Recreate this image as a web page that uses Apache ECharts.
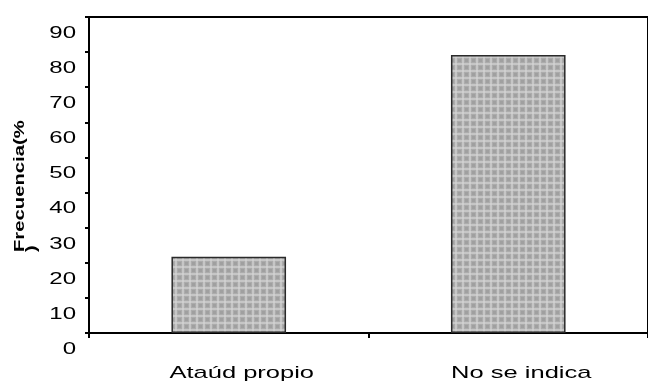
<!DOCTYPE html>
<html><head><meta charset="utf-8">
<script src="https://cdn.jsdelivr.net/npm/echarts@6/dist/echarts.min.js"></script>
<style>html,body{margin:0;padding:0;background:#fff}#c{width:648px;height:383px}</style>
</head><body><div id="c"></div>
<script>
var categories = ['Ataúd propio', 'No se indica'];
var values = [21.7, 79.2];
var yTicks = ['0','10','20','30','40','50','60','70','80','90'];

// The reference text is drawn horizontally stretched; stretch glyphs around their anchor point.
(function(){
  var proto = CanvasRenderingContext2D.prototype;
  var orig = proto.fillText;
  proto.fillText = function(text, x, y, maxWidth){
    var sx = /bold/.test(this.font) ? 1.35 : 1.5;
    this.save();
    this.translate(x, y);
    this.scale(sx, 1);
    if (maxWidth !== undefined) orig.call(this, text, 0, 0, maxWidth / sx);
    else orig.call(this, text, 0, 0);
    this.restore();
  };
})();

function makePattern(){
  var c = document.createElement('canvas');
  c.width = 7; c.height = 7;
  var g = c.getContext('2d');
  g.fillStyle = '#acacac'; g.fillRect(0,0,7,7);
  g.fillStyle = '#c6c6c6'; g.fillRect(0,0,7,2); g.fillRect(0,0,2,7);
  g.fillStyle = '#d0d0d0'; g.fillRect(0,0,2,2);
  g.fillStyle = '#a0a0a0'; g.fillRect(3,3,3,3);
  return c;
}

var FONT = 'Liberation Sans, Arial, sans-serif';
var chart = echarts.init(document.getElementById('c'));
chart.setOption({
  animation: false,
  grid: {left: 89, right: -9, top: 17, bottom: 50, show: true, borderColor: '#000', borderWidth: 2, backgroundColor: 'transparent'},
  xAxis: {
    type: 'category', data: categories,
    axisLine: {lineStyle: {color: '#000', width: 2}},
    axisTick: {show: true, length: 5, inside: false, lineStyle: {color: '#000', width: 2}},
    axisLabel: {color: '#000', fontFamily: FONT, fontSize: 17, margin: 32, interval: 0, padding: [0, 0, 0, 26]}
  },
  yAxis: {
    type: 'value', min: 0, max: 90, interval: 10,
    axisLine: {show: true, lineStyle: {color: '#000', width: 2}},
    axisTick: {show: true, length: 4, lineStyle: {color: '#000', width: 2}},
    splitLine: {show: false},
    axisLabel: {color: '#000', fontFamily: FONT, fontSize: 16, margin: 13,
      verticalAlign: 'top', lineHeight: 33,
      formatter: function(v){ return yTicks[Math.round(v/10)]; }}
  },
  graphic: [{
    type: 'text', x: 14, y: 252, rotation: Math.PI/2,
    style: {text: 'Frecuencia(%\n)', fill: '#000', font: 'bold 15px Liberation Sans, Arial, sans-serif',
      textAlign: 'left', textVerticalAlign: 'top', lineHeight: 12}
  }],
  series: [{
    type: 'bar', data: values, barWidth: '41%',
    itemStyle: {color: {image: makePattern(), repeat: 'repeat'}, borderColor: '#2a2a2a', borderWidth: 1.5}
  }]
});
</script></body></html>
